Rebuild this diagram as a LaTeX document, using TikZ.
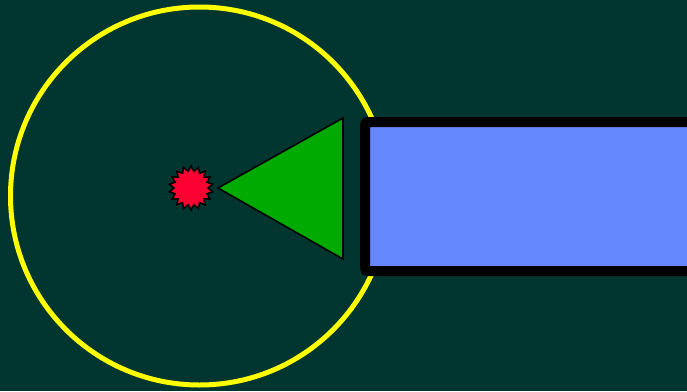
\documentclass[tikz,border=0pt]{standalone}
\usetikzlibrary{shapes.geometric}
\definecolor{bg}{RGB}{0,53,48}
\definecolor{ring}{RGB}{255,255,0}
\definecolor{tri}{RGB}{0,170,0}
\definecolor{boxblue}{RGB}{102,136,255}
\definecolor{burst}{RGB}{255,0,51}
\begin{document}
\begin{tikzpicture}[x=1pt,y=-1pt,
  ringstyle/.style={draw=ring,line width=5pt},
  tristyle/.style={fill=tri,draw=black,line width=1.6pt,line join=miter},
  boxstyle/.style={fill=boxblue,draw=black,line width=10pt,rounded corners=3pt},
  burststyle/.style={star,star points=18,star point ratio=1.3,minimum size=44pt,inner sep=0pt,fill=burst,draw=black,line width=1.6pt}]
\fill[bg] (0,0) rectangle (687,391);
\useasboundingbox (0,0) rectangle (687,391);
\draw[ringstyle] (199.5,196) circle (189);
\draw[tristyle] (218,188) -- (343,118) -- (343,259) -- cycle;
\draw[boxstyle] (365,122) rectangle (692,271);
\node[burststyle] (b) at (191,188) {};
\end{tikzpicture}
\end{document}
